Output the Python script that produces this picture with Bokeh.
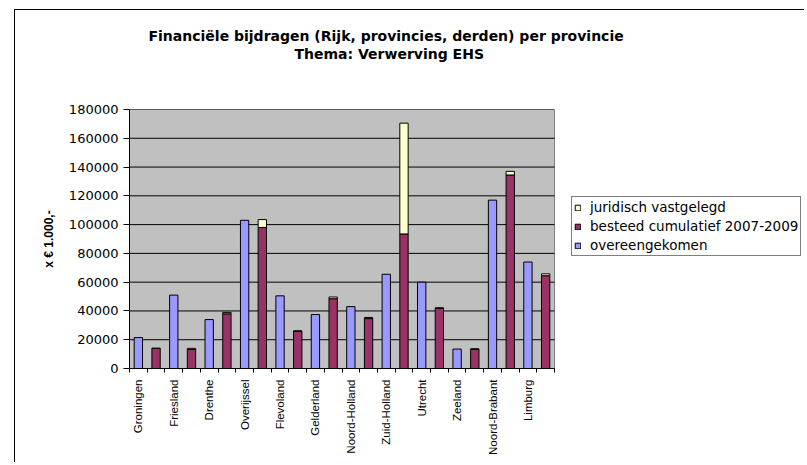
import numpy as np
from bokeh.plotting import figure
from bokeh.models import (ColumnDataSource, FixedTicker, Legend, LegendItem, Title,
                          BasicTickFormatter, Range1d)
from bokeh.embed import file_html
from bokeh.resources import INLINE

# ---- data ----
provinces = ["Groningen", "Friesland", "Drenthe", "Overijssel", "Flevoland", "Gelderland",
             "Noord-Holland", "Zuid-Holland", "Utrecht", "Zeeland", "Noord-Brabant", "Limburg"]
overeengekomen = [21500, 51000, 34000, 103000, 50500, 37500, 43000, 65500, 60000, 13500, 117000, 74000]
besteed = [14000, 13200, 38000, 98000, 26000, 48500, 34700, 93500, 42000, 13500, 134500, 64500]
juridisch = [0, 800, 1000, 5500, 0, 1200, 800, 77000, 0, 0, 2500, 1300]
y_ticks = [0, 20000, 40000, 60000, 80000, 100000, 120000, 140000, 160000, 180000]

title_line1 = "Financiële bijdragen (Rijk, provincies, derden) per provincie"
title_line2 = "Thema: Verwerving EHS"
y_title = "x € 1.000,-"
legend_labels = ["juridisch vastgelegd", "besteed cumulatief 2007-2009", "overeengekomen"]

# ---- layout helpers ----
n_slots = 2 * len(provinces)
x_lo, x_hi = 0.5, n_slots + 0.5          # extent of the category area
y_lo, y_hi = y_ticks[0], y_ticks[-1]
x_blue = [2 * i + 1 for i in range(len(provinces))]
x_stack = [2 * i + 2 for i in range(len(provinces))]
stack_top = [b + j for b, j in zip(besteed, juridisch)]

# the frame also covers the legend area on the right; the grey plot area is 425 px of 676
plot_area_px, frame_px = 425, 676
x_end = x_lo + n_slots * frame_px / plot_area_px

src = ColumnDataSource(dict(xb=x_blue, xs=x_stack, over=overeengekomen,
                            best=besteed, top=stack_top))

p = figure(width=790, height=453, output_backend="svg", toolbar_location=None,
           x_range=Range1d(x_lo, x_end), y_range=Range1d(y_lo, y_hi),
           min_border_left=114, min_border_right=0, min_border_top=99, min_border_bottom=95)
p.margin = (9, 0, 0, 14)
p.styles = {"border-left": "1px solid black", "border-top": "1px solid black"}
p.background_fill_color = "white"
p.border_fill_color = "white"
p.outline_line_color = None

# grey plot area and horizontal gridlines
p.quad(left=x_lo, right=x_hi, bottom=y_lo, top=y_hi, fill_color="#C0C0C0",
       line_color="#808080", line_width=1)
p.segment(x0=[x_lo] * len(y_ticks), x1=[x_hi] * len(y_ticks), y0=y_ticks, y1=y_ticks,
          line_color="black", line_width=1)

bw = 0.47
r_over = p.vbar(x="xb", top="over", bottom=0, width=bw, source=src,
                fill_color="#9999FF", line_color="black", line_width=1)
r_best = p.vbar(x="xs", top="best", bottom=0, width=bw, source=src,
                fill_color="#993366", line_color="black", line_width=1)
r_jur = p.vbar(x="xs", top="top", bottom="best", width=bw, source=src,
               fill_color="#FFFFCC", line_color="black", line_width=1)

# x axis
p.xaxis.bounds = (x_lo, x_hi)
p.xaxis.ticker = FixedTicker(ticks=x_blue, minor_ticks=[k + 0.5 for k in range(n_slots + 1)])
p.xaxis.major_label_overrides = {x: n for x, n in zip(x_blue, provinces)}
p.xaxis.major_label_orientation = np.pi / 2
p.xaxis.major_tick_in = 0
p.xaxis.major_tick_out = 0
p.xaxis.minor_tick_in = 0
p.xaxis.minor_tick_out = 4
p.xaxis.minor_tick_line_color = "black"
p.xaxis.axis_line_color = "black"
p.xaxis.major_label_standoff = 7
p.xaxis.major_label_text_font = "Liberation Sans"
p.xaxis.major_label_text_font_size = "11.5px"
p.xaxis.major_label_text_color = "black"

# y axis
p.yaxis.ticker = FixedTicker(ticks=y_ticks)
p.yaxis.formatter = BasicTickFormatter(use_scientific=False)
p.yaxis.major_tick_in = 0
p.yaxis.major_tick_out = 6
p.yaxis.minor_tick_in = 0
p.yaxis.minor_tick_out = 0
p.yaxis.axis_line_color = "black"
p.yaxis.major_tick_line_color = "black"
p.yaxis.major_label_standoff = 5
p.yaxis.major_label_text_font = "DejaVu Sans"
p.yaxis.major_label_text_font_size = "13px"
p.yaxis.major_label_text_color = "black"
p.yaxis.axis_label = y_title
p.yaxis.axis_label_text_font = "Liberation Sans"
p.yaxis.axis_label_text_font_style = "bold"
p.yaxis.axis_label_text_font_size = "12px"
p.yaxis.axis_label_standoff = 10
p.yaxis.axis_label_text_color = "black"

p.xgrid.visible = False
p.ygrid.visible = False

# titles in the "above" panel (first added sits nearest the frame)
title_props = Title.properties()


def make_title(txt, offset, size="14px"):
    t = Title(text=txt, align="left", offset=offset, text_font="DejaVu Sans",
              text_font_style="bold", text_font_size=size, text_color="black")
    if "standoff" in title_props:
        t.standoff = 0
    return t


p.add_layout(make_title(" ", 0, size="40px"), "above")   # spacer between frame and titles
p.add_layout(make_title(title_line2, 165), "above")
p.add_layout(make_title(title_line1, 19), "above")

legend = Legend(items=[LegendItem(label=legend_labels[0], renderers=[r_jur]),
                       LegendItem(label=legend_labels[1], renderers=[r_best]),
                       LegendItem(label=legend_labels[2], renderers=[r_over])],
                location=(442, 112))
legend.border_line_color = "black"
legend.border_line_width = 1
legend.background_fill_color = "white"
legend.background_fill_alpha = 1
legend.label_text_font = "DejaVu Sans"
legend.label_text_font_size = "13.5px"
legend.label_text_color = "black"
legend.glyph_width = 7
legend.glyph_height = 7
legend.label_standoff = 9
legend.padding = 2
legend.spacing = 3
legend.label_height = 16
legend.margin = 0
p.add_layout(legend)

open("out.html", "w").write(file_html(p, INLINE))
